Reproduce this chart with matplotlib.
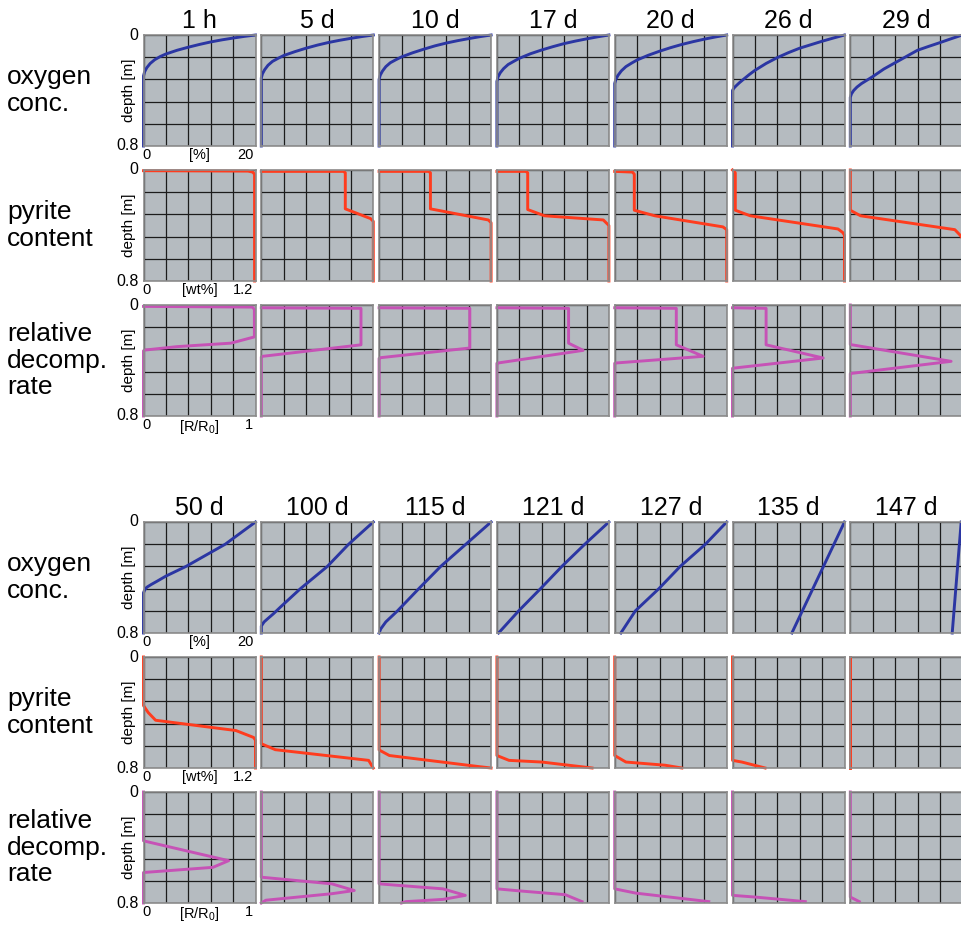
import numpy as np
import matplotlib
matplotlib.use("Agg")
import matplotlib.pyplot as plt

plt.rcParams['font.family'] = ['Liberation Sans', 'DejaVu Sans']
plt.rcParams['mathtext.default'] = 'regular'

# --- data: (value, depth [m]) pairs per time step ---
times_top = ["1 h", "5 d", "10 d", "17 d", "20 d", "26 d", "29 d"]
times_bottom = ["50 d", "100 d", "115 d", "121 d", "127 d", "135 d", "147 d"]

o2_steps = [20, 18, 16, 14, 12, 10, 8, 6, 4, 3, 2, 1.2, 0.6, 0.2, 0, 0]
oxygen = {
    "1 h": (o2_steps, [0, 0.01, 0.022, 0.035, 0.05, 0.068, 0.088, 0.11, 0.137, 0.155, 0.178, 0.205, 0.235, 0.265, 0.295, 0.8]),
    "5 d": (o2_steps, [0, 0.011, 0.024, 0.038, 0.054, 0.073, 0.095, 0.12, 0.148, 0.168, 0.19, 0.218, 0.25, 0.28, 0.31, 0.8]),
    "10 d": (o2_steps, [0, 0.012, 0.026, 0.041, 0.058, 0.078, 0.102, 0.128, 0.158, 0.178, 0.2, 0.228, 0.26, 0.29, 0.32, 0.8]),
    "17 d": (o2_steps, [0, 0.013, 0.028, 0.044, 0.062, 0.084, 0.108, 0.135, 0.168, 0.19, 0.213, 0.242, 0.272, 0.302, 0.335, 0.8]),
    "20 d": (o2_steps, [0, 0.014, 0.03, 0.048, 0.068, 0.091, 0.117, 0.146, 0.18, 0.203, 0.228, 0.258, 0.29, 0.32, 0.35, 0.8]),
    "26 d": (o2_steps, [0, 0.022, 0.045, 0.07, 0.095, 0.127, 0.163, 0.205, 0.255, 0.285, 0.318, 0.345, 0.368, 0.385, 0.40, 0.8]),
    "29 d": (o2_steps, [0, 0.027, 0.055, 0.082, 0.11, 0.155, 0.2, 0.245, 0.3, 0.325, 0.35, 0.375, 0.4, 0.425, 0.45, 0.8]),
    "50 d": ([20, 14.6, 7.6, 4, 2.5, 1.4, 0.6, 0.2, 0, 0], [0, 0.16, 0.32, 0.39, 0.425, 0.45, 0.47, 0.49, 0.51, 0.8]),
    "100 d": ([20, 15.6, 11.8, 7, 3.5, 2.2, 1.2, 0.5, 0, 0], [0, 0.16, 0.32, 0.48, 0.61, 0.66, 0.695, 0.72, 0.75, 0.8]),
    "115 d": ([20, 15.5, 11, 7.1, 3.3, 1.2, 0.3, 0], [0, 0.16, 0.32, 0.48, 0.64, 0.72, 0.77, 0.8]),
    "121 d": ([20, 15.7, 11.6, 7.8, 3.9, 0.3], [0, 0.16, 0.32, 0.48, 0.64, 0.8]),
    "127 d": ([20, 16.2, 11.7, 7.9, 3.7, 1.1], [0, 0.16, 0.32, 0.48, 0.64, 0.8]),
    "135 d": ([20, 15.3, 10.6], [0, 0.4, 0.8]),
    "147 d": ([19.8, 19.0, 18.2], [0, 0.4, 0.8]),
}

pyrite = {
    "1 h": ([0, 1.12, 1.17, 1.19, 1.19], [0.005, 0.008, 0.015, 0.03, 0.8]),
    "5 d": ([0, 0.88, 0.9, 0.9, 1.17, 1.2, 1.2], [0.01, 0.01, 0.02, 0.28, 0.35, 0.37, 0.8]),
    "10 d": ([0, 0.53, 0.55, 0.55, 1.17, 1.2, 1.2], [0.01, 0.01, 0.02, 0.28, 0.36, 0.38, 0.8]),
    "17 d": ([0, 0.31, 0.33, 0.33, 0.51, 1.14, 1.2, 1.2], [0.01, 0.01, 0.02, 0.285, 0.33, 0.36, 0.40, 0.8]),
    "20 d": ([0, 0.19, 0.21, 0.21, 0.43, 1.16, 1.2, 1.2], [0.01, 0.015, 0.03, 0.29, 0.33, 0.41, 0.43, 0.8]),
    "26 d": ([0, 0.03, 0.03, 0.19, 1.13, 1.18, 1.2, 1.2], [0, 0.02, 0.29, 0.33, 0.425, 0.45, 0.47, 0.8]),
    "29 d": ([0, 0, 0.11, 1.12, 1.17, 1.2, 1.2], [0, 0.29, 0.33, 0.43, 0.465, 0.49, 0.8]),
    "50 d": ([0, 0, 0.05, 0.13, 0.99, 1.18, 1.2, 1.2], [0, 0.35, 0.40, 0.456, 0.53, 0.58, 0.6, 0.8]),
    "100 d": ([0, 0, 0.15, 1.15, 1.19, 1.2], [0, 0.625, 0.668, 0.745, 0.79, 0.8]),
    "115 d": ([0, 0, 0.11, 1.07, 1.2], [0, 0.67, 0.71, 0.79, 0.8]),
    "121 d": ([0, 0, 0.13, 0.48, 1.02], [0, 0.71, 0.745, 0.757, 0.8]),
    "127 d": ([0, 0, 0.12, 0.54, 0.72], [0, 0.71, 0.757, 0.78, 0.8]),
    "135 d": ([0, 0, 0.1, 0.35], [0, 0.745, 0.757, 0.8]),
    "147 d": ([0, 0], [0, 0.8]),
}

decomp = {
    "1 h": ([0, 0.97, 0.99, 0.99, 0.78, 0.3, 0.01, 0, 0], [0.01, 0.015, 0.03, 0.23, 0.275, 0.30, 0.325, 0.33, 0.8]),
    "5 d": ([0, 0.89, 0.89, 0.01, 0, 0], [0.02, 0.024, 0.287, 0.37, 0.375, 0.8]),
    "10 d": ([0, 0.81, 0.81, 0.01, 0, 0], [0.02, 0.024, 0.31, 0.38, 0.385, 0.8]),
    "17 d": ([0, 0.64, 0.64, 0.77, 0.01, 0, 0], [0.02, 0.024, 0.275, 0.327, 0.418, 0.42, 0.8]),
    "20 d": ([0, 0.55, 0.55, 0.79, 0.01, 0, 0], [0.02, 0.024, 0.287, 0.37, 0.418, 0.42, 0.8]),
    "26 d": ([0, 0.30, 0.30, 0.81, 0.02, 0, 0], [0.02, 0.024, 0.287, 0.382, 0.454, 0.456, 0.8]),
    "29 d": ([0, 0, 0.9, 0, 0], [0, 0.285, 0.406, 0.494, 0.8]),
    "50 d": ([0, 0, 0.76, 0.62, 0.02, 0, 0], [0, 0.352, 0.495, 0.543, 0.579, 0.58, 0.8]),
    "100 d": ([0, 0, 0.63, 0.83, 0.63, 0.04, 0], [0, 0.614, 0.662, 0.71, 0.733, 0.78, 0.8]),
    "115 d": ([0, 0, 0.57, 0.77, 0.57, 0.24, 0.2], [0, 0.662, 0.698, 0.745, 0.774, 0.79, 0.8]),
    "121 d": ([0, 0, 0.22, 0.61, 0.76], [0, 0.698, 0.714, 0.74, 0.79]),
    "127 d": ([0, 0, 0.19, 0.84], [0, 0.698, 0.729, 0.79]),
    "135 d": ([0, 0, 0.2, 0.65], [0, 0.745, 0.757, 0.79]),
    "147 d": ([0, 0, 0.08], [0, 0.757, 0.79]),
}

row_labels = ["oxygen\nconc.", "pyrite\ncontent", "relative\ndecomp.\nrate"]
x_units = ["[%]", "[wt%]", "[R/R$_0$]"]
x_max = [20, 1.2, 1]
x_max_labels = ["20", "1.2", "1"]
profiles = [oxygen, pyrite, decomp]
colors = ["#2b36a3", "#ff3c1e", "#c652b6"]

# --- layout in pixels ---
W, H = 961, 930
fig = plt.figure(figsize=(W / 100, H / 100), dpi=100)
panel_w, panel_h = 112, 111
col_x = [143.5 + i * 117.8 for i in range(7)]
block_rows = [[35, 170, 305], [522, 657, 792]]
bg = "#b5bbc0"


def add_panel(left, top):
    return fig.add_axes([left / W, 1 - (top + panel_h) / H, panel_w / W, panel_h / H])


for b, times in enumerate([times_top, times_bottom]):
    for r in range(3):
        top = block_rows[b][r]
        for c, t in enumerate(times):
            ax = add_panel(col_x[c], top)
            ax.set_facecolor(bg)
            ax.set_xlim(0, x_max[r])
            ax.set_ylim(0.8, 0)
            ax.set_xticks(np.linspace(0, x_max[r], 6))
            ax.set_yticks(np.linspace(0, 0.8, 6))
            ax.tick_params(length=0, labelbottom=False, labelleft=False)
            ax.grid(True, color="#1c1c1c", lw=0.9)
            ax.set_axisbelow(True)
            for s in ax.spines.values():
                s.set_color("#8c8c8c")
                s.set_linewidth(1.2)
            xs, ds = profiles[r][t]
            ax.plot(xs, ds, color=colors[r], lw=2.1, clip_on=False, solid_joinstyle="round")

            if r == 0:
                ax.text(0.5, 1 + 7 / panel_h, t, transform=ax.transAxes,
                        ha="center", va="baseline", fontsize=18)
            if c == 0:
                ax.text(-5 / panel_w, 1, "0", transform=ax.transAxes,
                        ha="right", va="center", fontsize=11.5)
                ax.text(-5 / panel_w, 0, "0.8", transform=ax.transAxes,
                        ha="right", va="center", fontsize=11.5)
                ax.text(-14 / panel_w, 0.5, "depth [m]", transform=ax.transAxes,
                        ha="center", va="center", rotation=90, fontsize=11)
                ax.text(3 / panel_w, -2 / panel_h, "0", transform=ax.transAxes,
                        ha="center", va="top", fontsize=10.5)
                ax.text(0.5, -2 / panel_h, x_units[r], transform=ax.transAxes,
                        ha="center", va="top", fontsize=10.5)
                ax.text(0.98, -2 / panel_h, x_max_labels[r], transform=ax.transAxes,
                        ha="right", va="top", fontsize=10.5)
                fig.text(7 / W, 1 - (top + panel_h / 2) / H, row_labels[r],
                         ha="left", va="center", fontsize=19, linespacing=1.12)

fig.savefig("out.png", dpi=100)
